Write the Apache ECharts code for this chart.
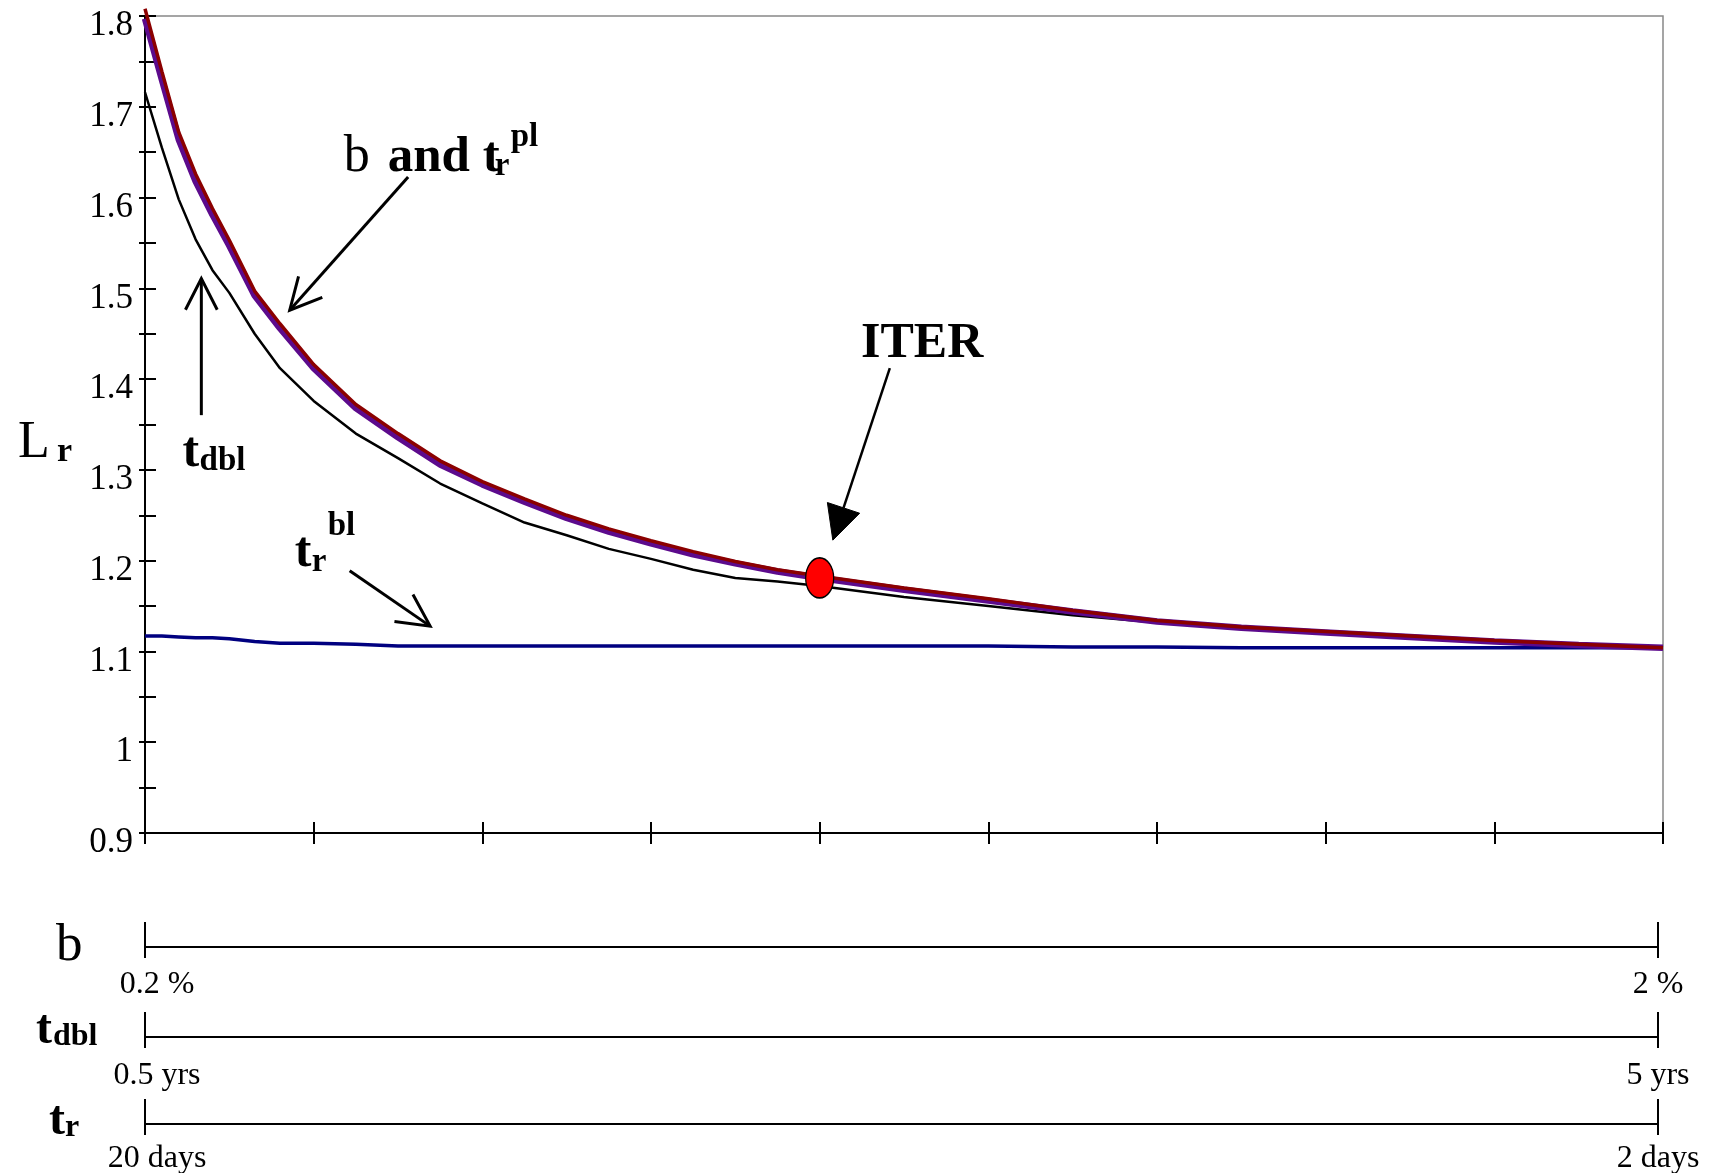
<!DOCTYPE html>
<html>
<head>
<meta charset="utf-8">
<script src="https://cdn.jsdelivr.net/npm/echarts@6/dist/echarts.min.js"></script>
<style>
html,body{margin:0;padding:0;background:#fff;}
#c{width:1714px;height:1173px;}
</style>
</head>
<body>
<div id="c"></div>
<script>
// ---------------- data ----------------
const bGrid = [0.20,0.22,0.24,0.26,0.28,0.30,0.33,0.36,0.40,0.45,0.50,0.55,0.60,0.65,0.70,0.75,0.80,0.85,0.90,0.95,1.00,1.10,1.20,1.30,1.40,1.50,1.60,1.70,1.80,1.90,2.00];
// "b and t_r^pl" curves (dark red on top, purple just beneath)
const lrRed = [1.808,1.739,1.672,1.626,1.588,1.553,1.497,1.461,1.416,1.372,1.340,1.310,1.287,1.268,1.250,1.235,1.222,1.210,1.199,1.190,1.183,1.170,1.158,1.145,1.134,1.127,1.122,1.117,1.112,1.108,1.104];
const lrPurple = [1.797,1.730,1.664,1.618,1.581,1.547,1.492,1.456,1.412,1.368,1.336,1.306,1.284,1.265,1.247,1.232,1.219,1.207,1.197,1.188,1.181,1.168,1.156,1.144,1.133,1.126,1.121,1.116,1.111,1.107,1.104];
// t_dbl curve (black)
const lrBlack = [1.716,1.655,1.598,1.554,1.520,1.495,1.450,1.412,1.376,1.340,1.313,1.285,1.263,1.242,1.228,1.213,1.202,1.190,1.181,1.177,1.172,1.160,1.150,1.140,1.132,1.125,1.121,1.116,1.111,1.107,1.104];
// t_r^bl curve (navy)
const lrBlue = [1.117,1.117,1.116,1.115,1.115,1.114,1.111,1.109,1.109,1.108,1.106,1.106,1.106,1.106,1.106,1.106,1.106,1.106,1.106,1.106,1.106,1.106,1.106,1.105,1.105,1.104,1.104,1.104,1.104,1.104,1.104];
// ITER operating point
const iterPoint = [1.0, 1.181];
// main axes ranges
const yMin = 0.9, yMax = 1.8, yStep = 0.05;
const xMin = 0.2, xMax = 2.0, xStep = 0.2;
// secondary scales under the chart
const bScaleVals = [0.2, 2];          const bScaleLabels = ['0.2 %', '2 %'];
const tdblScaleVals = [0.5, 5];       const tdblScaleLabels = ['0.5 yrs', '5 yrs'];
const trScaleVals = [20, 2];          const trScaleLabels = ['20 days', '2 days'];

// ---------------- chart ----------------
const SERIF = '"Liberation Serif", "Times New Roman", "DejaVu Serif", serif';
const chart = echarts.init(document.getElementById('c'), null, {renderer: 'canvas', width: 1714, height: 1173});

const AXC = '#000';
function pick(vals, labels) {
  return function (v) {
    for (let i = 0; i < vals.length; i++) {
      if (Math.abs(v - vals[i]) < 1e-9) return (i === 0 ? '{l|' : '{r|') + labels[i] + '}';
    }
    return '';
  };
}
function scaleAxes(gi, min, max, inverse, vals, labels, margin) {
  const lab = {fontSize: 32, fontFamily: SERIF, color: '#000'};
  return [
    {gridIndex: gi, type: 'value', position: 'bottom', min: min, max: max, inverse: inverse,
      axisLine: {show: true, onZero: false, lineStyle: {color: AXC, width: 2}},
      axisTick: {show: true, customValues: vals, length: 11, lineStyle: {color: AXC, width: 2}},
      axisLabel: {show: true, customValues: vals, formatter: pick(vals, labels), margin: margin,
        fontSize: 32, fontFamily: SERIF, color: '#000',
        rich: {l: Object.assign({padding: [0, 0, 0, 24]}, lab), r: Object.assign({}, lab)}},
      splitLine: {show: false}},
    {gridIndex: gi, type: 'value', position: 'top', min: min, max: max, inverse: inverse,
      axisLine: {show: false, onZero: false},
      axisTick: {show: true, customValues: vals, length: 25, lineStyle: {color: AXC, width: 2}},
      axisLabel: {show: false}, splitLine: {show: false}}
  ];
}
function toPairs(arr) { return bGrid.map((b, i) => [b, arr[i]]); }

const option = {
  animation: false,
  backgroundColor: '#fff',
  grid: [
    {left: 145, right: 51, top: 16, height: 817, show: true, borderColor: '#888', borderWidth: 1.5, backgroundColor: 'transparent'},
    {left: 145, right: 56, top: 947, height: 0},
    {left: 145, right: 56, top: 1037, height: 0},
    {left: 145, right: 56, top: 1124, height: 0}
  ],
  xAxis: [
    {gridIndex: 0, type: 'value', position: 'bottom', min: xMin, max: xMax, interval: xStep,
      axisLine: {show: true, onZero: false, lineStyle: {color: AXC, width: 2}},
      axisTick: {show: true, length: 11, lineStyle: {color: AXC, width: 2}},
      axisLabel: {show: false}, splitLine: {show: false}},
    {gridIndex: 0, type: 'value', position: 'bottom', min: xMin, max: xMax, interval: xStep,
      axisLine: {show: false, onZero: false},
      axisTick: {show: true, inside: true, length: 11, lineStyle: {color: AXC, width: 2}},
      axisLabel: {show: false}, splitLine: {show: false}},
    ...scaleAxes(1, 0.2, 2, false, bScaleVals, bScaleLabels, 22),
    ...scaleAxes(2, 0.5, 5, false, tdblScaleVals, tdblScaleLabels, 23),
    ...scaleAxes(3, 2, 20, true, trScaleVals, trScaleLabels, 19)
  ],
  yAxis: [
    {gridIndex: 0, type: 'value', position: 'left', min: yMin, max: yMax, interval: yStep,
      axisLine: {show: true, onZero: false, lineStyle: {color: AXC, width: 2}},
      axisTick: {show: true, inside: true, length: 11, lineStyle: {color: AXC, width: 2}},
      axisLabel: {show: true, margin: 12, fontSize: 35, fontFamily: SERIF, color: '#000',
        verticalAlign: 'top', lineHeight: 20, showMinLabel: true, showMaxLabel: true,
        formatter: function (v) {
          const r = Math.round(v * 100);
          if (r % 10 !== 0) return '';
          return String(r / 100);
        }},
      splitLine: {show: false}},
    {gridIndex: 0, type: 'value', position: 'left', min: yMin, max: yMax, interval: yStep,
      axisLine: {show: false, onZero: false},
      axisTick: {show: true, inside: false, length: 6, lineStyle: {color: AXC, width: 2}},
      axisLabel: {show: false}, splitLine: {show: false}},
    {gridIndex: 1, type: 'value', show: false, min: 0, max: 1},
    {gridIndex: 2, type: 'value', show: false, min: 0, max: 1},
    {gridIndex: 3, type: 'value', show: false, min: 0, max: 1}
  ],
  series: [
    {type: 'line', name: 't_r^bl', xAxisIndex: 0, yAxisIndex: 0, data: toPairs(lrBlue), symbol: 'none',
      clip: false, lineStyle: {color: '#000080', width: 3.5}, z: 3},
    {type: 'line', name: 't_dbl', xAxisIndex: 0, yAxisIndex: 0, data: toPairs(lrBlack), symbol: 'none',
      clip: false, lineStyle: {color: '#000000', width: 2.5}, z: 4},
    {type: 'line', name: 'b and t_r^pl (a)', xAxisIndex: 0, yAxisIndex: 0, data: toPairs(lrPurple), symbol: 'none',
      clip: false, lineStyle: {color: '#5c0a8c', width: 6.5}, z: 5},
    {type: 'line', name: 'b and t_r^pl (b)', xAxisIndex: 0, yAxisIndex: 0, data: toPairs(lrRed), symbol: 'none',
      clip: false, lineStyle: {color: '#8b0000', width: 3.5}, z: 6},
    {type: 'scatter', name: 'ITER', xAxisIndex: 0, yAxisIndex: 0, data: [iterPoint], symbol: 'circle',
      symbolSize: [28, 40], itemStyle: {color: '#ff0000', borderColor: '#000', borderWidth: 1.5, opacity: 1}, z: 10}
  ]
};
chart.setOption(option);

// ---------------- annotations ----------------
function px(b, v) { return chart.convertToPixel({gridIndex: 0}, [b, v]); }
function textPieces(x0, y0, pieces) {
  return pieces.map(p => ({
    type: 'text', z: 20, x: x0 + (p.dx || 0), y: y0 + (p.dy || 0) - 0.3375 * p.size,
    style: {text: p.t, fontSize: p.size, fontWeight: p.bold ? 'bold' : 'normal', fontFamily: SERIF,
      fill: '#000', align: 'left', verticalAlign: 'middle'}
  }));
}
function openArrow(p0, p1, len, angDeg, w) {
  const a = Math.atan2(p1[1] - p0[1], p1[0] - p0[0]);
  const g = angDeg * Math.PI / 180;
  const l = [p1[0] - len * Math.cos(a - g), p1[1] - len * Math.sin(a - g)];
  const r = [p1[0] - len * Math.cos(a + g), p1[1] - len * Math.sin(a + g)];
  return [
    {type: 'line', z: 20, shape: {x1: p0[0], y1: p0[1], x2: p1[0], y2: p1[1]}, style: {stroke: '#000', lineWidth: w}},
    {type: 'polyline', z: 20, shape: {points: [l, p1, r]}, style: {stroke: '#000', lineWidth: w, fill: null}}
  ];
}
function filledArrow(p0, p1, len, half, w) {
  const a = Math.atan2(p1[1] - p0[1], p1[0] - p0[0]);
  const ux = Math.cos(a), uy = Math.sin(a);
  const base = [p1[0] - len * ux, p1[1] - len * uy];
  const c1 = [base[0] - half * uy, base[1] + half * ux];
  const c2 = [base[0] + half * uy, base[1] - half * ux];
  return [
    {type: 'line', z: 20, shape: {x1: p0[0], y1: p0[1], x2: base[0], y2: base[1]}, style: {stroke: '#000', lineWidth: w}},
    {type: 'polygon', z: 20, shape: {points: [c1, p1, c2]}, style: {fill: '#000', stroke: '#000', lineWidth: 1}}
  ];
}

// annotation anchors in data units
const annBandT = [0.4356, 1.6246];
const annBandTArrow = [[0.512, 1.6227], [0.3716, 1.4759]];
const annTdbl = [0.2446, 1.2997];
const annTdblArrow = [[0.2668, 1.3603], [0.2668, 1.5108]];
const annTrbl = [0.3775, 1.1895];
const annTrblArrow = [[0.4427, 1.1888], [0.5381, 1.1279]];
const annIter = [1.049, 1.4197];
const annIterArrow = [[1.0832, 1.412], [1.0156, 1.2226]];

const els = [];
let p = px(annBandT[0], annBandT[1]);
els.push(...textPieces(p[0], p[1], [
  {t: 'b', size: 52, bold: false, dx: 0},
  {t: 'and t', size: 51, bold: true, dx: 44},
  {t: 'r', size: 33, bold: true, dx: 151, dy: 2},
  {t: 'pl', size: 33, bold: true, dx: 167, dy: -27}
]));
els.push(...openArrow(px(...annBandTArrow[0]), px(...annBandTArrow[1]), 35, 27, 3));

p = px(annTdbl[0], annTdbl[1]);
els.push(...textPieces(p[0], p[1], [
  {t: 't', size: 50, bold: true, dx: 0},
  {t: 'dbl', size: 33, bold: true, dx: 17, dy: 2}
]));
els.push(...openArrow(px(...annTdblArrow[0]), px(...annTdblArrow[1]), 35, 27, 3));

p = px(annTrbl[0], annTrbl[1]);
els.push(...textPieces(p[0], p[1], [
  {t: 't', size: 50, bold: true, dx: 0},
  {t: 'r', size: 33, bold: true, dx: 17, dy: 3},
  {t: 'bl', size: 33, bold: true, dx: 33, dy: -33}
]));
els.push(...openArrow(px(...annTrblArrow[0]), px(...annTrblArrow[1]), 36, 27, 3));

p = px(annIter[0], annIter[1]);
els.push(...textPieces(p[0], p[1], [{t: 'ITER', size: 50, bold: true, dx: 0}]));
els.push(...filledArrow(px(...annIterArrow[0]), px(...annIterArrow[1]), 34, 17, 2.5));

// axis titles (outside the plotting area)
els.push(...textPieces(18, 461, [
  {t: 'L', size: 52, bold: false, dx: 0},
  {t: 'r', size: 34, bold: true, dx: 39, dy: 3}
]));
els.push(...textPieces(56, 964, [{t: 'b', size: 53, bold: false, dx: 0}]));
els.push(...textPieces(36, 1047, [
  {t: 't', size: 48, bold: true, dx: 0},
  {t: 'dbl', size: 32, bold: true, dx: 17, dy: 1}
]));
els.push(...textPieces(49, 1138, [
  {t: 't', size: 48, bold: true, dx: 0},
  {t: 'r', size: 32, bold: true, dx: 16, dy: 1}
]));

chart.setOption({graphic: {elements: els}});
</script>
</body>
</html>
